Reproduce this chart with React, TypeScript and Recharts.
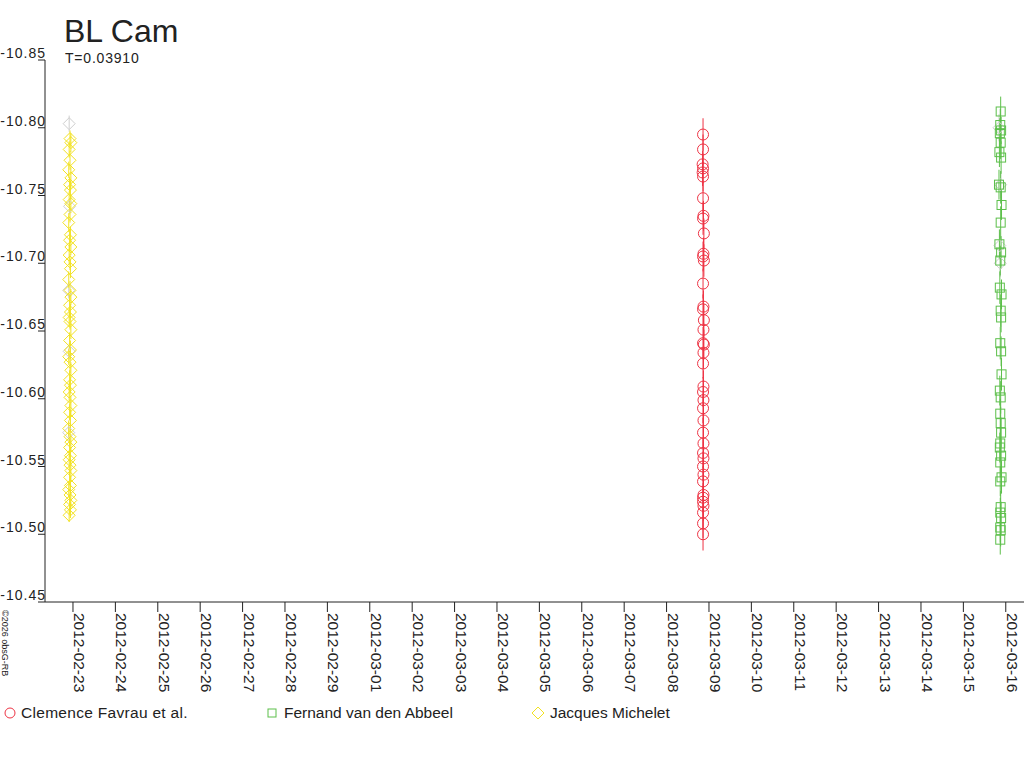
import React from 'react';
import { ScatterChart, Scatter, XAxis, YAxis, ErrorBar } from 'recharts';

const FONT = '"Liberation Sans", Arial, sans-serif';
const RED = '#ee3344';
const GREEN = '#5cbf4a';
const YELLOW = '#f2e222';
const GRAY = '#cfcfcf';
const TEXT = '#222222';

const tickDates = [
  '2012-02-23', '2012-02-24', '2012-02-25', '2012-02-26', '2012-02-27', '2012-02-28', '2012-02-29',
  '2012-03-01', '2012-03-02', '2012-03-03', '2012-03-04', '2012-03-05', '2012-03-06', '2012-03-07',
  '2012-03-08', '2012-03-09', '2012-03-10', '2012-03-11', '2012-03-12', '2012-03-13', '2012-03-14',
  '2012-03-15', '2012-03-16',
];
const xTicks = tickDates.map((_, i) => i);
const yTicks = [-10.85, -10.8, -10.75, -10.7, -10.65, -10.6, -10.55, -10.5, -10.45];

// d = days since 2012-02-23, m = magnitude, e = error
const michelet = [
  { d: -0.07, m: -10.792, e: 0.006 }, { d: -0.05, m: -10.789, e: 0.007 }, { d: -0.09, m: -10.784, e: 0.006 },
  { d: -0.07, m: -10.776, e: 0.007 }, { d: -0.1, m: -10.769, e: 0.006 }, { d: -0.05, m: -10.763, e: 0.008 },
  { d: -0.08, m: -10.758, e: 0.006 }, { d: -0.06, m: -10.754, e: 0.007 }, { d: -0.09, m: -10.747, e: 0.006 },
  { d: -0.05, m: -10.744, e: 0.007 }, { d: -0.07, m: -10.736, e: 0.006 }, { d: -0.1, m: -10.73, e: 0.007 },
  { d: -0.06, m: -10.721, e: 0.006 }, { d: -0.08, m: -10.717, e: 0.008 }, { d: -0.05, m: -10.712, e: 0.006 },
  { d: -0.09, m: -10.706, e: 0.007 }, { d: -0.07, m: -10.701, e: 0.006 }, { d: -0.06, m: -10.696, e: 0.007 },
  { d: -0.1, m: -10.688, e: 0.006 }, { d: -0.07, m: -10.68, e: 0.007 }, { d: -0.05, m: -10.675, e: 0.006 },
  { d: -0.08, m: -10.669, e: 0.008 }, { d: -0.06, m: -10.664, e: 0.006 }, { d: -0.09, m: -10.66, e: 0.007 },
  { d: -0.07, m: -10.657, e: 0.006 }, { d: -0.05, m: -10.651, e: 0.007 }, { d: -0.08, m: -10.643, e: 0.006 },
  { d: -0.06, m: -10.636, e: 0.007 }, { d: -0.1, m: -10.631, e: 0.006 }, { d: -0.07, m: -10.627, e: 0.008 },
  { d: -0.05, m: -10.621, e: 0.006 }, { d: -0.08, m: -10.614, e: 0.007 }, { d: -0.06, m: -10.61, e: 0.006 },
  { d: -0.09, m: -10.605, e: 0.007 }, { d: -0.07, m: -10.601, e: 0.006 }, { d: -0.05, m: -10.595, e: 0.007 },
  { d: -0.08, m: -10.59, e: 0.006 }, { d: -0.06, m: -10.584, e: 0.008 }, { d: -0.1, m: -10.578, e: 0.006 },
  { d: -0.07, m: -10.572, e: 0.007 }, { d: -0.05, m: -10.568, e: 0.006 }, { d: -0.08, m: -10.564, e: 0.007 },
  { d: -0.06, m: -10.558, e: 0.006 }, { d: -0.09, m: -10.555, e: 0.007 }, { d: -0.07, m: -10.551, e: 0.006 },
  { d: -0.05, m: -10.547, e: 0.008 }, { d: -0.08, m: -10.542, e: 0.006 }, { d: -0.06, m: -10.536, e: 0.007 },
  { d: -0.1, m: -10.533, e: 0.006 }, { d: -0.07, m: -10.529, e: 0.007 }, { d: -0.05, m: -10.525, e: 0.006 },
  { d: -0.08, m: -10.522, e: 0.007 }, { d: -0.06, m: -10.518, e: 0.006 }, { d: -0.09, m: -10.514, e: 0.005 },
];

const favrau = [
  { d: 14.86, m: -10.795, e: 0.012 }, { d: 14.86, m: -10.784, e: 0.011 }, { d: 14.85, m: -10.773, e: 0.01 },
  { d: 14.86, m: -10.77, e: 0.011 }, { d: 14.85, m: -10.767, e: 0.01 }, { d: 14.86, m: -10.764, e: 0.011 },
  { d: 14.86, m: -10.748, e: 0.012 }, { d: 14.87, m: -10.735, e: 0.011 }, { d: 14.86, m: -10.733, e: 0.012 },
  { d: 14.88, m: -10.722, e: 0.011 }, { d: 14.87, m: -10.707, e: 0.012 }, { d: 14.86, m: -10.705, e: 0.011 },
  { d: 14.88, m: -10.702, e: 0.012 }, { d: 14.86, m: -10.685, e: 0.011 }, { d: 14.87, m: -10.668, e: 0.012 },
  { d: 14.86, m: -10.666, e: 0.011 }, { d: 14.88, m: -10.658, e: 0.012 }, { d: 14.87, m: -10.651, e: 0.011 },
  { d: 14.86, m: -10.641, e: 0.012 }, { d: 14.88, m: -10.64, e: 0.011 }, { d: 14.87, m: -10.634, e: 0.012 },
  { d: 14.86, m: -10.626, e: 0.011 }, { d: 14.87, m: -10.609, e: 0.012 }, { d: 14.86, m: -10.605, e: 0.011 },
  { d: 14.87, m: -10.599, e: 0.012 }, { d: 14.86, m: -10.593, e: 0.011 }, { d: 14.87, m: -10.584, e: 0.012 },
  { d: 14.86, m: -10.575, e: 0.011 }, { d: 14.87, m: -10.567, e: 0.012 }, { d: 14.86, m: -10.56, e: 0.011 },
  { d: 14.87, m: -10.556, e: 0.012 }, { d: 14.86, m: -10.55, e: 0.011 }, { d: 14.87, m: -10.544, e: 0.012 },
  { d: 14.86, m: -10.539, e: 0.011 }, { d: 14.87, m: -10.529, e: 0.012 }, { d: 14.86, m: -10.527, e: 0.011 },
  { d: 14.86, m: -10.524, e: 0.012 }, { d: 14.87, m: -10.521, e: 0.011 }, { d: 14.86, m: -10.516, e: 0.012 },
  { d: 14.86, m: -10.508, e: 0.011 }, { d: 14.86, m: -10.5, e: 0.012 },
];

const abbeel = [
  { d: 21.88, m: -10.812, e: 0.011 }, { d: 21.87, m: -10.802, e: 0.012 }, { d: 21.89, m: -10.798, e: 0.01 },
  { d: 21.86, m: -10.796, e: 0.011 }, { d: 21.88, m: -10.789, e: 0.012 }, { d: 21.85, m: -10.782, e: 0.011 },
  { d: 21.89, m: -10.778, e: 0.012 }, { d: 21.84, m: -10.758, e: 0.011 }, { d: 21.88, m: -10.756, e: 0.012 },
  { d: 21.9, m: -10.743, e: 0.011 }, { d: 21.88, m: -10.73, e: 0.012 }, { d: 21.85, m: -10.714, e: 0.011 },
  { d: 21.89, m: -10.708, e: 0.012 }, { d: 21.87, m: -10.702, e: 0.011 }, { d: 21.86, m: -10.682, e: 0.012 },
  { d: 21.9, m: -10.677, e: 0.011 }, { d: 21.88, m: -10.665, e: 0.012 }, { d: 21.89, m: -10.66, e: 0.011 },
  { d: 21.87, m: -10.641, e: 0.012 }, { d: 21.89, m: -10.635, e: 0.011 }, { d: 21.9, m: -10.618, e: 0.012 },
  { d: 21.86, m: -10.606, e: 0.011 }, { d: 21.88, m: -10.601, e: 0.012 }, { d: 21.87, m: -10.589, e: 0.011 },
  { d: 21.88, m: -10.582, e: 0.012 }, { d: 21.89, m: -10.575, e: 0.011 }, { d: 21.87, m: -10.567, e: 0.012 },
  { d: 21.86, m: -10.564, e: 0.011 }, { d: 21.89, m: -10.558, e: 0.012 }, { d: 21.87, m: -10.553, e: 0.011 },
  { d: 21.9, m: -10.542, e: 0.012 }, { d: 21.87, m: -10.539, e: 0.011 }, { d: 21.88, m: -10.52, e: 0.012 },
  { d: 21.87, m: -10.516, e: 0.011 }, { d: 21.89, m: -10.512, e: 0.012 }, { d: 21.87, m: -10.505, e: 0.011 },
  { d: 21.88, m: -10.503, e: 0.012 }, { d: 21.87, m: -10.496, e: 0.011 },
];

const otherObs = [
  { d: -0.09, m: -10.803, e: 0.006 }, { d: -0.08, m: -10.742, e: 0.006 }, { d: -0.1, m: -10.68, e: 0.006 },
  { d: -0.09, m: -10.635, e: 0.006 }, { d: -0.1, m: -10.575, e: 0.006 },
  { d: 21.84, m: -10.8, e: 0.01 }, { d: 21.88, m: -10.758, e: 0.01 }, { d: 21.86, m: -10.713, e: 0.01 },
  { d: 21.87, m: -10.7, e: 0.01 },
];

const circleShape = (p: any) => (
  <circle cx={p.cx} cy={p.cy} r={5.5} fill="none" stroke={RED} strokeWidth={1} />
);
const squareShape = (p: any) => (
  <rect x={p.cx - 4.5} y={p.cy - 4.5} width={9} height={9} fill="none" stroke={GREEN} strokeWidth={1} />
);
const makeDiamond = (color: string) => (p: any) => (
  <path
    d={`M${p.cx},${p.cy - 6}L${p.cx + 6},${p.cy}L${p.cx},${p.cy + 6}L${p.cx - 6},${p.cy}Z`}
    fill="none"
    stroke={color}
    strokeWidth={1}
  />
);
const yellowDiamond = makeDiamond(YELLOW);
const grayDiamond = makeDiamond(GRAY);

const YTick = (p: any) => (
  <text
    x={p.x + 8}
    y={p.y - 2}
    textAnchor="end"
    fontSize={14}
    letterSpacing={1}
    fontFamily={FONT}
    fill={TEXT}
  >
    {Number(p.payload.value).toFixed(2)}
  </text>
);

const XTick = (p: any) => (
  <text
    x={p.x + 1}
    y={p.y + 1}
    transform={`rotate(90 ${p.x + 1} ${p.y + 1})`}
    textAnchor="start"
    fontSize={15.5}
    fontFamily={FONT}
    fill={TEXT}
  >
    {tickDates[p.payload.value]}
  </text>
);

export default function App() {
  return (
    <div style={{ position: 'absolute', left: 0, top: 0, width: 1024, height: 768, background: '#fff' }}>
      <ScatterChart width={1024} height={768} margin={{ top: 60, right: 0, left: 0, bottom: 0 }}>
        <XAxis
          type="number"
          dataKey="d"
          domain={[-0.66, 22.43]}
          ticks={xTicks}
          interval={0}
          allowDataOverflow
          height={166}
          tickSize={10}
          tickMargin={0}
          tick={<XTick />}
          axisLine={{ stroke: TEXT }}
          tickLine={{ stroke: TEXT }}
        />
        <YAxis
          type="number"
          dataKey="m"
          domain={[-10.85, -10.45]}
          reversed
          ticks={yTicks}
          interval={0}
          allowDataOverflow
          width={45}
          tickSize={7}
          tickMargin={0}
          tick={<YTick />}
          axisLine={{ stroke: TEXT }}
          tickLine={{ stroke: TEXT }}
        />
        <Scatter data={otherObs} shape={grayDiamond} isAnimationActive={false} legendType="none">
          <ErrorBar dataKey="e" direction="y" width={0} stroke={GRAY} strokeWidth={1} />
        </Scatter>
        <Scatter data={michelet} shape={yellowDiamond} isAnimationActive={false}>
          <ErrorBar dataKey="e" direction="y" width={0} stroke={YELLOW} strokeWidth={1} />
        </Scatter>
        <Scatter data={favrau} shape={circleShape} isAnimationActive={false}>
          <ErrorBar dataKey="e" direction="y" width={0} stroke={RED} strokeWidth={1} />
        </Scatter>
        <Scatter data={abbeel} shape={squareShape} isAnimationActive={false}>
          <ErrorBar dataKey="e" direction="y" width={0} stroke={GREEN} strokeWidth={1} />
        </Scatter>
      </ScatterChart>
      <svg
        width={1024}
        height={768}
        style={{ position: 'absolute', left: 0, top: 0, pointerEvents: 'none' }}
        fontFamily={FONT}
      >
        <text x={64} y={42} fontSize={32} fill={TEXT}>BL Cam</text>
        <text x={65} y={63} fontSize={14} letterSpacing={0.8} fill={TEXT}>T=0.03910</text>
        <text x={2} y={610} fontSize={9} fill={TEXT} transform="rotate(90 2 610)">©2026 obsG-RB</text>
        <circle cx={10} cy={713} r={5} fill="none" stroke={RED} />
        <text x={21} y={718} fontSize={15.5} letterSpacing={0.3} fill={TEXT}>Clemence Favrau et al.</text>
        <rect x={268} y={709} width={8} height={8} fill="none" stroke={GREEN} />
        <text x={284} y={718} fontSize={15.5} fill={TEXT}>Fernand van den  Abbeel</text>
        <path d="M538,707L544,713L538,719L532,713Z" fill="none" stroke={YELLOW} />
        <text x={550} y={718} fontSize={15.5} fill={TEXT}>Jacques Michelet</text>
      </svg>
    </div>
  );
}
